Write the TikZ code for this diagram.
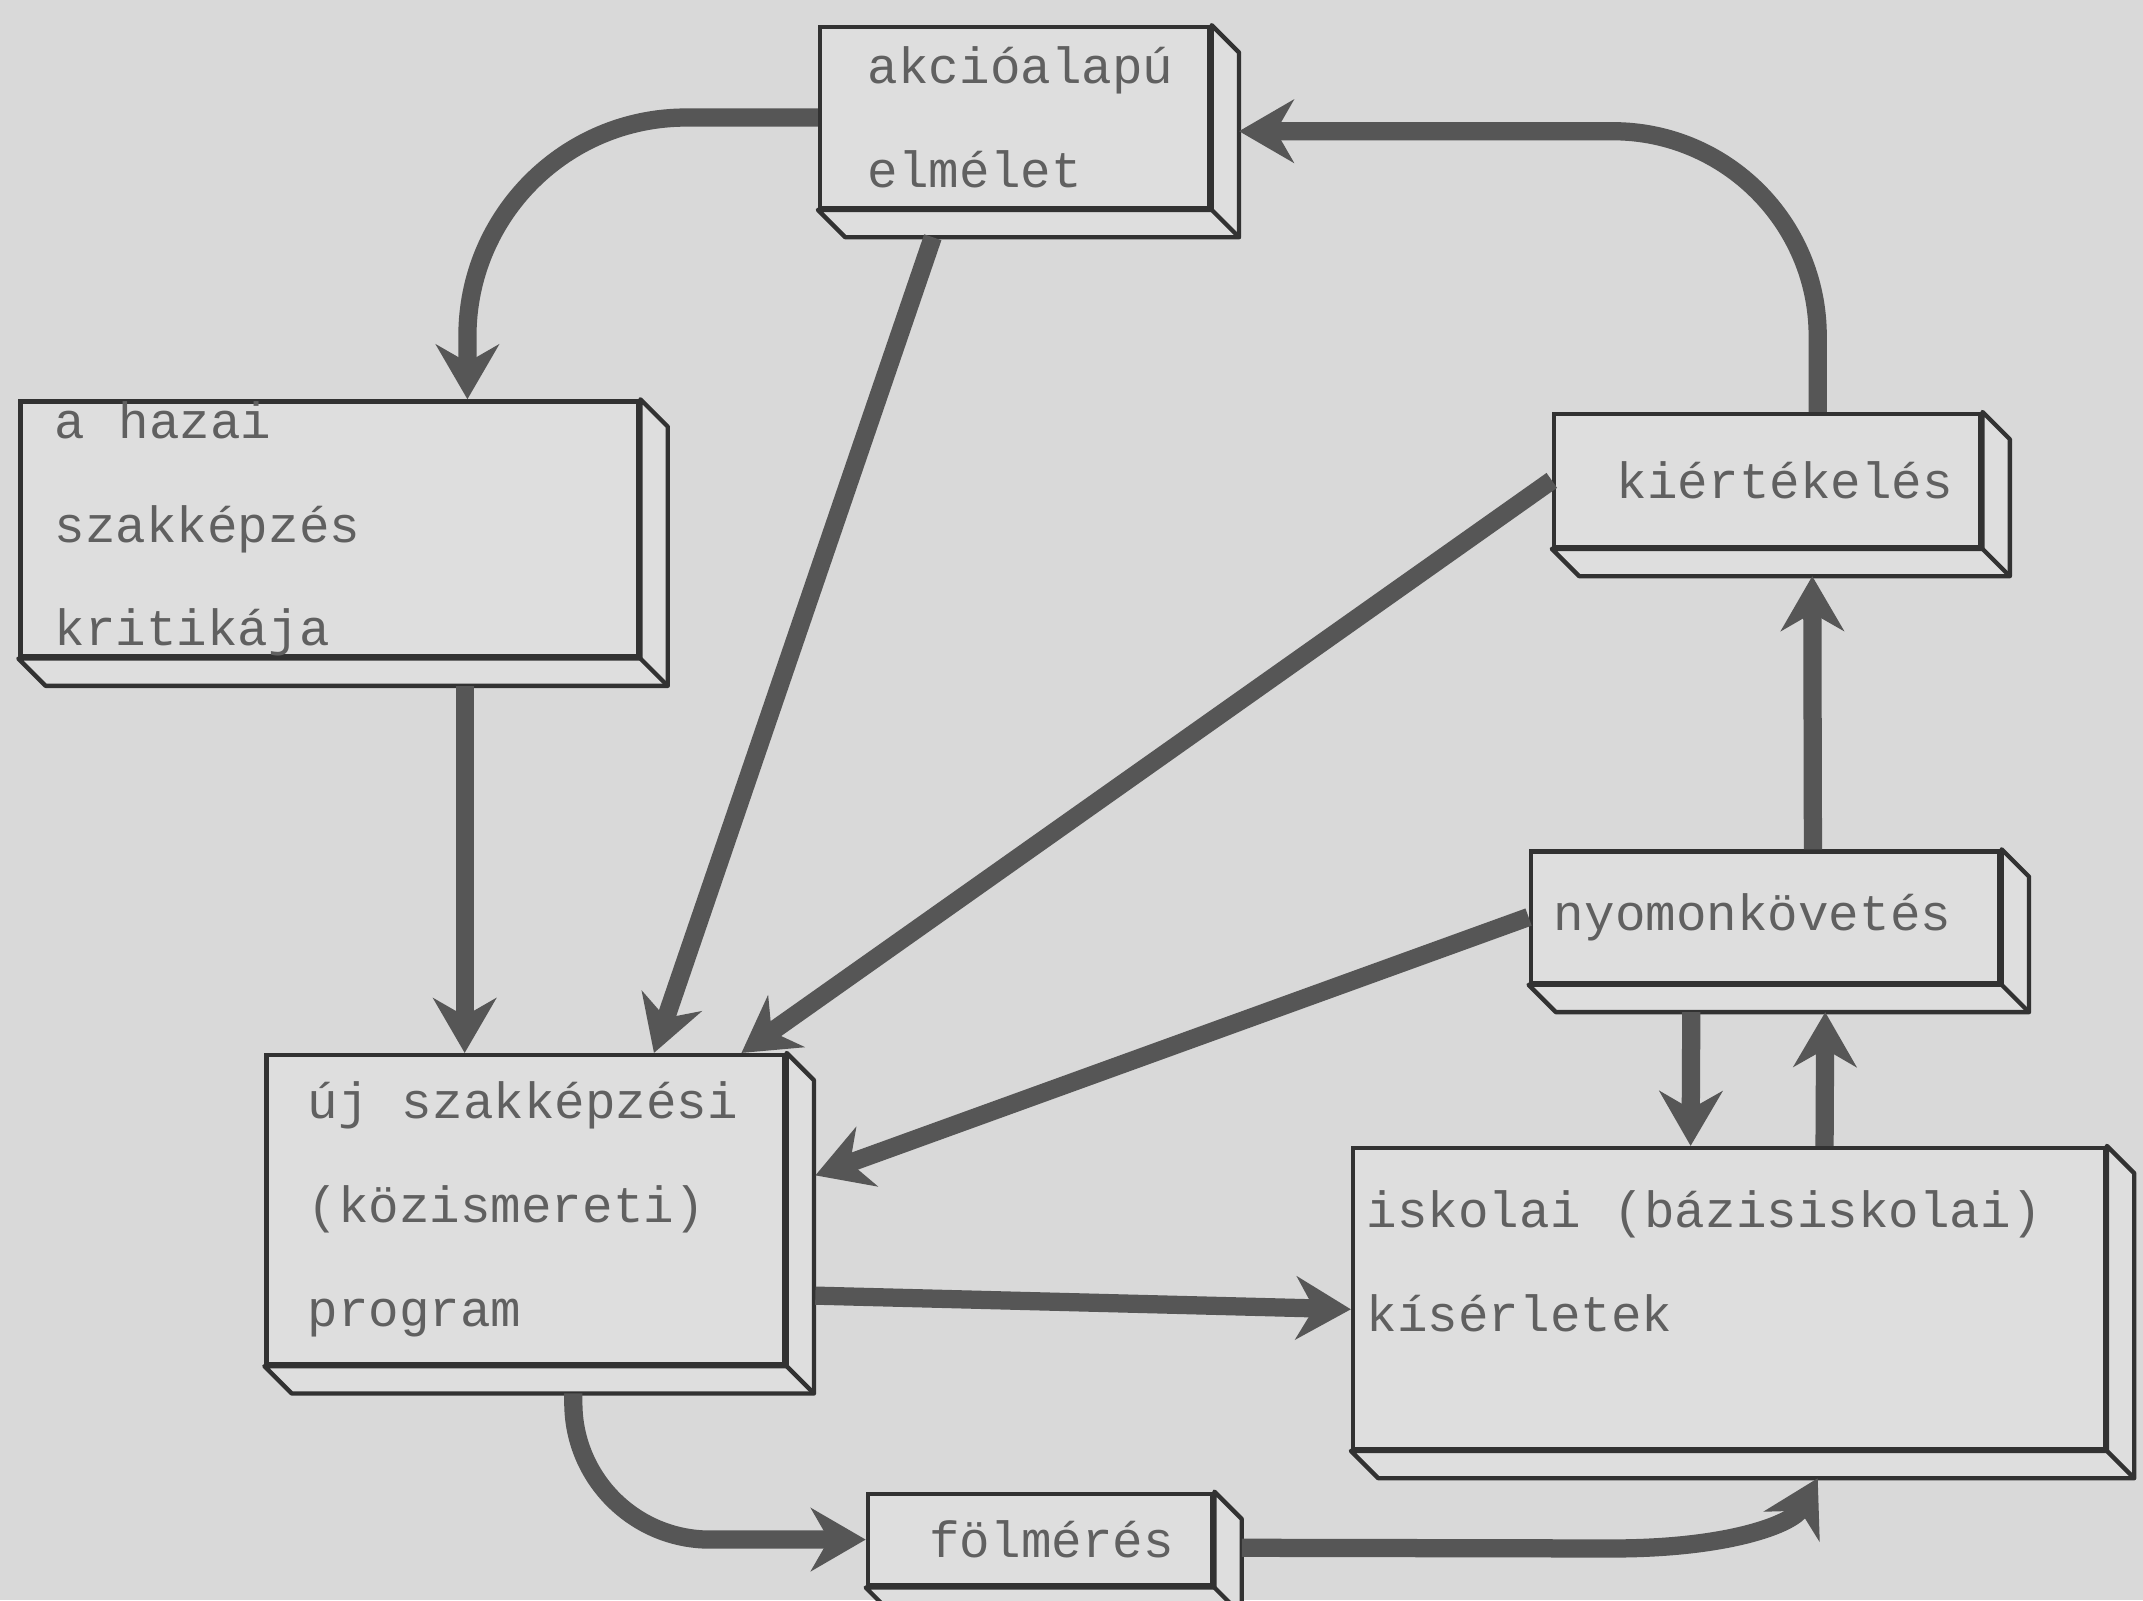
\documentclass[tikz,border=0pt]{standalone}
\usepackage{fontspec}
\setmonofont{Liberation Mono}
\usetikzlibrary{calc}
\usetikzlibrary{arrows.meta}

\definecolor{papier}{RGB}{217,217,217}
\definecolor{dobozszin}{RGB}{222,222,222}
\definecolor{nyilszin}{RGB}{86,86,86}
\definecolor{vonal}{RGB}{50,50,50}
\definecolor{betu}{RGB}{96,96,96}

\newcommand{\dobozbetu}{\ttfamily\fontsize{10.6}{21.6}\selectfont}
\newcommand{\koz}{\kern3.4pt}

\tikzset{
 doboz/.style={draw=vonal, line width=.9pt, fill=dobozszin, text=betu, align=left, inner sep=0pt,
   font=\dobozbetu},
 nyil/.style={draw=nyilszin, line width=3.8pt, -{Stealth[length=4mm,width=4.6mm,inset=1.3mm]}},
}

\begin{document}
\begin{tikzpicture}[x=0.1mm, y=-0.1mm]
\useasboundingbox (0,0) rectangle (1568,1171);
\fill[papier] (0,0) rectangle (1568,1171);

% dobozok
\node[doboz, minimum width=28.5mm, minimum height=13.2mm, text width=21.5mm] (akcio) at (742.5,86) {akcióalapú\\elmélet};
\node[doboz, minimum width=45.2mm, minimum height=15mm, text width=40.2mm] (hazai) at (241,387) {a \koz hazai \koz szakképzés\\kritikája};
\node[doboz, minimum width=31.2mm, minimum height=9.7mm, text width=22mm] (kiert) at (1293,351.5) {kiértékelés};
\node[doboz, minimum width=34.3mm, minimum height=9.6mm, text width=30.9mm] (nyom) at (1291.5,671) {nyomonkövetés};
\node[doboz, minimum width=37.9mm, minimum height=22.6mm, text width=31.9mm] (uj) at (384.5,885) {új \koz szakképzési\\(közismereti)\\program};
\node[doboz, minimum width=55mm, minimum height=22mm, text width=53mm, text depth=37pt] (iskola) at (1265,950) {iskolai \koz (bázisiskolai)\\kísérletek};
\node[doboz, minimum width=25.2mm, minimum height=6.7mm, text width=16.2mm] (folm) at (761,1126.5) {fölmérés};

\foreach \n in {akcio,hazai,kiert,nyom,uj,iskola,folm} {
 \filldraw[draw=vonal, fill=dobozszin, line width=.9pt, line join=round]
   (\n.north east) -- ++(20,20) -- ($(\n.south east)+(20,20)$) -- ($(\n.south west)+(20,20)$)
   -- (\n.south west) -- (\n.south east) -- cycle;
 \draw[vonal, line width=.9pt] (\n.south east) --++(20,20);
}

% nyilak
\draw[nyil, rounded corners=16mm] (akcio.west) -| ($(hazai.north)+(101,0)$);
\draw[nyil, rounded corners=15mm] ($(kiert.north)+(37,0)$) |- ($(akcio.east)+(20,10)$);
\draw[nyil] ($(akcio.south)+(-60,20)$) -- ($(uj.north)+(94,0)$);
\draw[nyil] ($(hazai.south)+(99,20)$) -- ($(uj.north)+(-44.5,0)$);
\draw[nyil] (kiert.west) -- ($(uj.north)+(158,0)$);
\draw[nyil] (nyom.west) -- ($(uj.east)+(21,-25)$);
\draw[nyil] ($(nyom.north)+(35,0)$) -- ($(kiert.south)+(33,20)$);
\draw[nyil] ($(nyom.south)+(-54,20)$) -- ($(iskola.north)+(-28,0)$);
\draw[nyil] ($(iskola.north)+(70,0)$) -- ($(nyom.south)+(44,20)$);
\draw[nyil] ($(uj.east)+(21,63)$) -- ($(iskola.west)+(0,8)$);
\draw[nyil, rounded corners=10mm] ($(uj.south)+(35,20)$) |- (folm.west);
\draw[nyil] ($(folm.east)+(20,6)$) -- (1180,1133) .. controls (1265,1133) and (1312,1115) .. ($(iskola.south)+(65,20)$);
\end{tikzpicture}
\end{document}
